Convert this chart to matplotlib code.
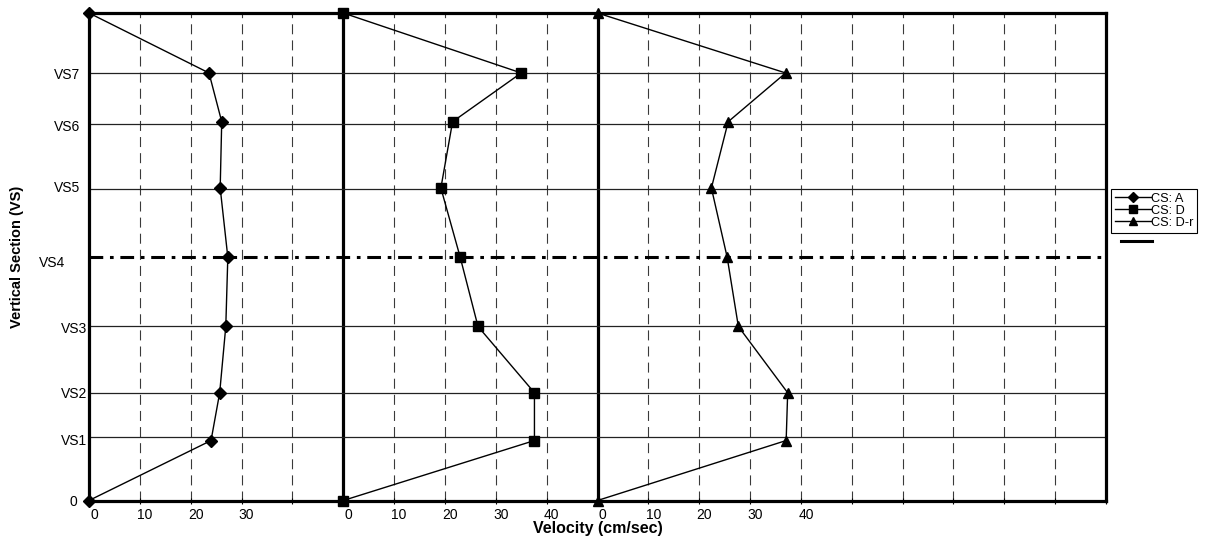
import matplotlib
matplotlib.use("Agg")
import matplotlib.pyplot as plt
from matplotlib.lines import Line2D
from matplotlib.transforms import ScaledTranslation
import numpy as np

plt.rcParams['font.family'] = ['Liberation Sans', 'DejaVu Sans']

# ---- data ----
section_labels = ['0', 'VS1', 'VS2', 'VS3', 'VS4', 'VS5', 'VS6', 'VS7']
section_levels = [0.0, 0.131, 0.221, 0.357, 0.499, 0.640, 0.772, 0.877]
point_levels = [0.0, 0.123, 0.221, 0.357, 0.499, 0.641, 0.777, 0.877, 1.0]

vel_A = [0, 24.0, 25.7, 26.9, 27.3, 25.8, 26.1, 23.6, 0]
vel_D = [0, 37.6, 37.6, 26.5, 23.0, 19.2, 21.5, 35.0, 0]
vel_Dr = [0, 37.1, 37.4, 27.7, 25.5, 22.4, 25.7, 37.0, 0]

series_names = ['CS: A', 'CS: D', 'CS: D-r']
series_offsets = [0, 50, 100]
x_tick_values = list(range(0, 201, 10))
x_tick_labels = ['0', '10', '20', '30', '', '0', '10', '20', '30', '40',
                 '0', '10', '20', '30', '40', '', '', '', '', '', '']

# ---- figure ----
fig = plt.figure(figsize=(12.23, 5.41), dpi=100)
ax = fig.add_axes([89 / 1223, 40.5 / 541, 1017 / 1223, 487.5 / 541])
ax.set_xlim(0, 200)
ax.set_ylim(0, 1)

# vertical dashed grid
for xv in x_tick_values[1:-1]:
    if xv in series_offsets:
        continue
    ax.axvline(xv, color='#3a3a3a', lw=0.8, linestyle=(0, (9, 5.5)), zorder=1)
# thick profile base lines
for off in series_offsets[1:]:
    ax.axvline(off, color='black', lw=2.3, zorder=2)

# horizontal section lines
for lab, lev in zip(section_labels[1:], section_levels[1:]):
    if lab == 'VS4':
        ax.axhline(lev, color='black', lw=2.2, linestyle=(0, (4.5, 2.2, 1.2, 2.2)), zorder=2)
    else:
        ax.axhline(lev, color='#222222', lw=0.9, zorder=2)

markers = ['D', 's', '^']
msizes = [6, 7.5, 7.5]
handles = []
for name, vals, off, mk, ms in zip(series_names, [vel_A, vel_D, vel_Dr], series_offsets, markers, msizes):
    xs = np.array(vals) + off
    ln, = ax.plot(xs, point_levels, color='black', lw=1.0, marker=mk, ms=ms,
                  markerfacecolor='black', markeredgecolor='black', clip_on=False, zorder=5,
                  label=name)
    handles.append(ln)

for sp in ax.spines.values():
    sp.set_linewidth(2.3)
    sp.set_color('black')

# ticks
ax.set_xticks(x_tick_values)
ax.set_xticklabels(x_tick_labels)
ax.tick_params(axis='x', direction='inout', length=5, width=0.8, labelsize=10, pad=3)
ax.set_yticks(section_levels)
ax.set_yticklabels(section_labels)
ax.tick_params(axis='y', length=0, labelsize=10, pad=6.5)

dpi = fig.dpi
for lbl in ax.get_xticklabels():
    lbl.set_transform(lbl.get_transform() + ScaledTranslation(5 / dpi, 0, fig.dpi_scale_trans))
y_offsets = {'0': (-3, 0), 'VS1': (7, -3), 'VS2': (7, 0), 'VS3': (7, -1),
             'VS4': (-15, -4), 'VS5': (0, 1.8), 'VS6': (0, -1.5), 'VS7': (0, -1)}
for lbl in ax.get_yticklabels():
    dx, dy = y_offsets.get(lbl.get_text(), (0, 0))
    lbl.set_transform(lbl.get_transform() + ScaledTranslation(dx / dpi, dy / dpi, fig.dpi_scale_trans))

ax.set_xlabel('Velocity (cm/sec)', fontsize=11.5, fontweight='bold')
ax.xaxis.set_label_coords(0.5, -0.042)
ax.set_ylabel('Vertical Section (VS)', fontsize=10.5, fontweight='bold')
ax.yaxis.set_label_coords(-0.064, 0.5)

# legend
leg = fig.legend(handles, series_names, loc='upper left',
                 bbox_to_anchor=(1111 / 1223, 1 - 189 / 541), fontsize=9.2,
                 frameon=True, fancybox=False, edgecolor='black', framealpha=1,
                 handlelength=2.8, handletextpad=0.05, labelspacing=0.0,
                 borderpad=0.3, borderaxespad=0, markerscale=0.8)
leg.get_frame().set_linewidth(0.8)

extra = Line2D([], [], color='black', lw=2.2)
leg2 = fig.legend([extra], [''], loc='upper left',
                  bbox_to_anchor=(1121 / 1223, 1 - 236 / 541), fontsize=8.5,
                  frameon=False, handlelength=2.6, borderpad=0.0, borderaxespad=0)

fig.savefig('out.png', dpi=100)
